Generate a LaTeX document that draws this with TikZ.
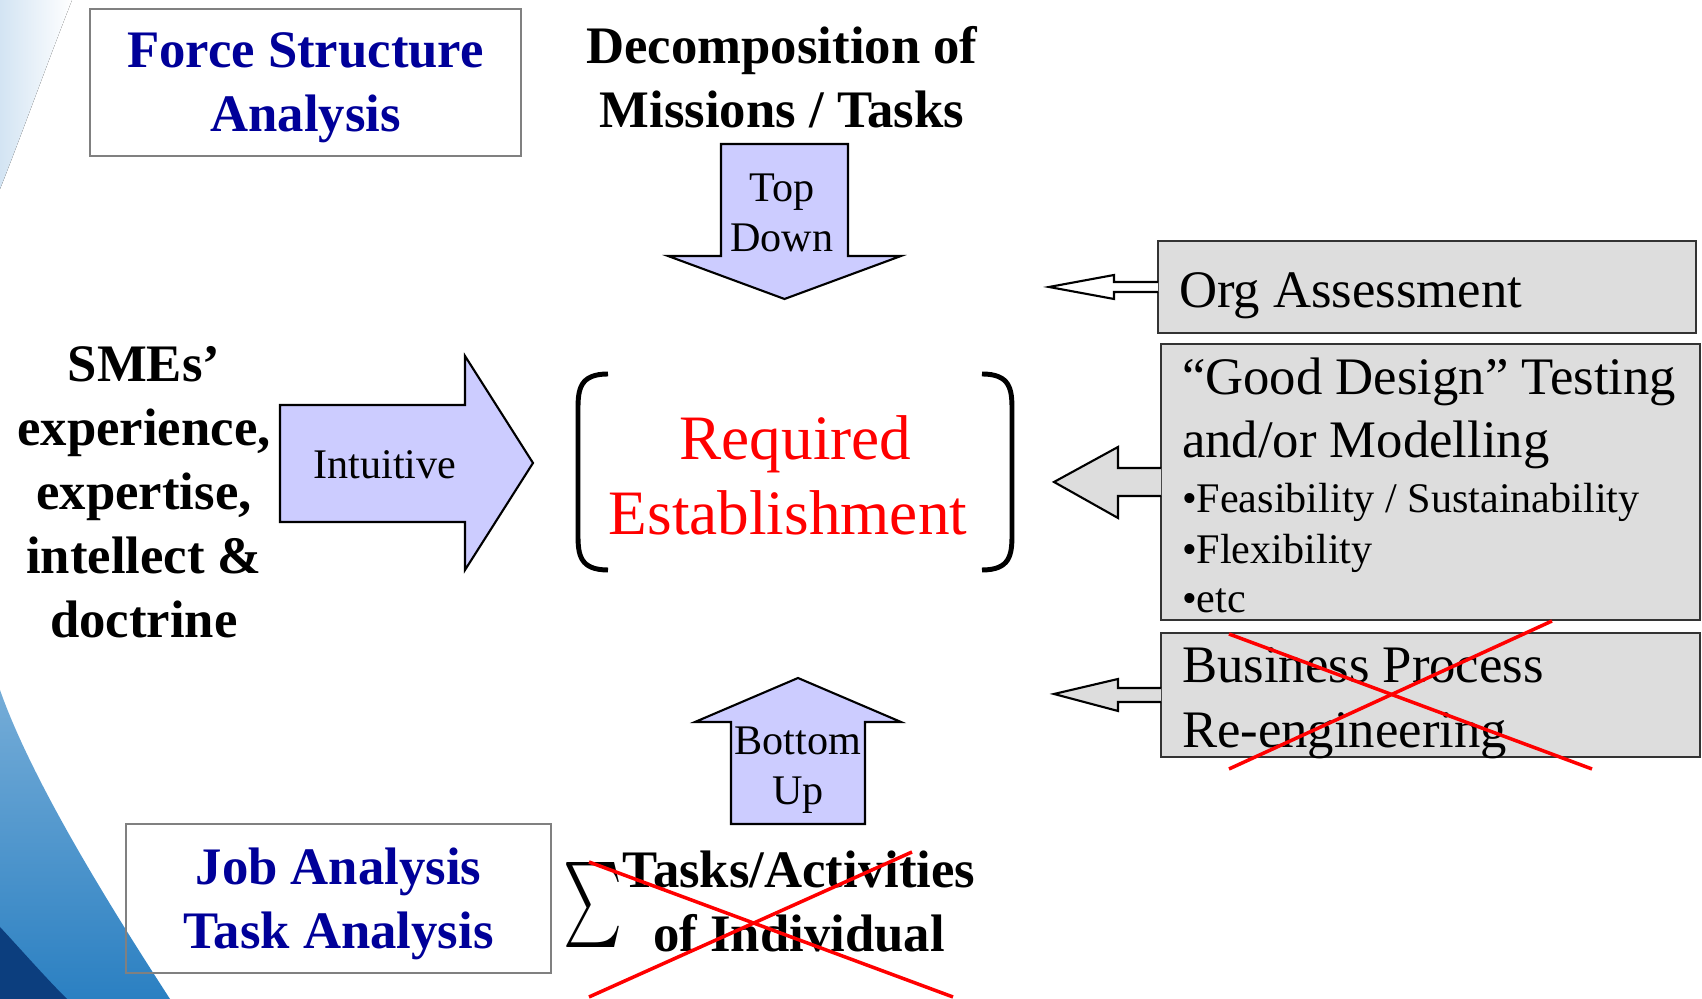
\documentclass[tikz,border=0pt]{standalone}
\usepackage{graphicx}
\usepackage{fontspec}
\setmainfont{Liberation Serif}
\usetikzlibrary{positioning}
\definecolor{arrowblue}{HTML}{CCCCFF}
\definecolor{boxgrey}{HTML}{DDDDDD}
\definecolor{titleblue}{HTML}{000099}
\definecolor{swooshblue}{HTML}{2B80C2}
\definecolor{swooshdark}{HTML}{0C3E7E}
\definecolor{paleblue}{HTML}{D3E4F3}

\begin{document}
\begin{tikzpicture}[semithick, line join=miter,
            title/.style ={font=\fontsize{15}{18.2}\selectfont\bfseries, align=center, inner sep=0pt},
            whitebox/.style ={draw=gray, line width=0.6pt, minimum width=4.31cm, minimum height=1.47cm},
            greybox/.style ={draw=black!80, line width=0.6pt, fill=boxgrey, minimum width=5.39cm},
            bigtext/.style ={font=\fontsize{15}{18.2}\selectfont, anchor=base west, inner sep=0pt},
            smalltext/.style ={font=\fontsize{12}{14.4}\selectfont, anchor=base west, inner sep=0pt},
            arrowtext/.style ={font=\fontsize{12}{14.2}\selectfont, align=center, inner sep=0pt},
            blockarrow/.style ={draw=black, line width=0.6pt, fill=arrowblue},
            sidearrow/.style ={draw=black, line width=0.6pt, fill=boxgrey},
            cross/.style ={draw=red, line width=1pt}]

        \useasboundingbox (0,0) rectangle (17.02,9.99);

        % fondo: swoosh a la izquierda
        \fill[left color=paleblue, right color=white] (0,9.99) -- (0.72,9.99) .. controls (0.45,9.3) and (0.2,8.6) .. (0,8.1) -- cycle;
        \shade[top color=swooshblue!65, bottom color=swooshblue] (0,3.09) .. controls (0.33,2.15) and (1.15,0.85) .. (1.70,0) -- (0,0) -- cycle;
        \fill[swooshdark] (0,0.72) .. controls (0.25,0.45) and (0.45,0.22) .. (0.67,0) -- (0,0) -- cycle;

        % cajas de arriba y abajo
        \node[whitebox] (force) at (3.055,9.165) {};
        \node[title, text=titleblue] (forcetxt) at (3.055,9.11) {Force Structure\\Analysis};
        \node[title] (decomp) at (7.82,9.215) {Decomposition of\\Missions / Tasks};
        \node[whitebox, minimum width=4.25cm, minimum height=1.49cm] (job) at (3.385,1.005) {};
        \node[title, text=titleblue] (jobtxt) at (3.385,0.95) {Job Analysis\\Task Analysis};
        \node[inner sep=0pt] (sigma) at (5.925,0.935) {\resizebox*{0.59cm}{0.85cm}{$\sum$}};
        \node[title] (tasks) at (7.99,0.97) {Tasks/Activities\\of Individual};
        \node[title] (smes) at (1.44,5.07) {SMEs’\\experience,\\expertise,\\intellect \&\\doctrine};

        % flechas azules
        \draw[blockarrow] (7.21,8.55) -- (8.48,8.55) -- (8.48,7.43) -- (9.01,7.43) -- (7.845,7.00) -- (6.68,7.43) -- (7.21,7.43) -- cycle;
        \node[arrowtext] (topdown) at (7.82,7.86) {Top\\Down};
        \draw[blockarrow] (2.80,5.94) -- (4.65,5.94) -- (4.65,6.43) -- (5.33,5.36) -- (4.65,4.29) -- (4.65,4.77) -- (2.80,4.77) -- cycle;
        \node[arrowtext] (intuit) at (3.85,5.34) {Intuitive};
        \draw[blockarrow] (7.31,1.75) -- (8.65,1.75) -- (8.65,2.77) -- (9.01,2.77) -- (7.98,3.21) -- (6.95,2.77) -- (7.31,2.77) -- cycle;
        \node[arrowtext] (bottomup) at (7.98,2.29) {Bottom\\Up};

        % centro
        \node[font=\fontsize{18}{21.3}\selectfont, text=red, align=center, inner sep=0pt] (req) at (7.88,5.24) {\hspace*{0.15cm}Required\\Establishment};
        \draw[line width=1.4pt] (6.08,6.25) .. controls (5.80,6.25) and (5.78,6.10) .. (5.78,5.90) -- (5.78,4.64) .. controls (5.78,4.44) and (5.80,4.29) .. (6.08,4.29);
        \draw[line width=1.4pt] (9.82,6.25) .. controls (10.10,6.25) and (10.12,6.10) .. (10.12,5.90) -- (10.12,4.64) .. controls (10.12,4.44) and (10.10,4.29) .. (9.82,4.29);

        % cajas grises a la derecha
        \node[greybox, minimum width=5.38cm, minimum height=0.92cm] (org) at (14.27,7.12) {};
        \node[bigtext] (orgtxt) at (11.78,6.91) {Org Assessment};
        \node[greybox, minimum height=2.76cm] (good) at (14.305,5.17) {};
        \node[bigtext] (good1) at (11.81,6.045) {“Good Design” Testing};
        \node[bigtext] (good2) at (11.81,5.415) {and/or Modelling};
        \node[smalltext] (good3) at (11.81,4.865) {•Feasibility / Sustainability};
        \node[smalltext] (good4) at (11.81,4.355) {•Flexibility};
        \node[smalltext] (good5) at (11.81,3.86) {•etc};
        \node[greybox, minimum height=1.24cm] (bpr) at (14.305,3.04) {};
        \node[bigtext] (bpr1) at (11.81,3.16) {Business Process};
        \node[bigtext] (bpr2) at (11.81,2.51) {Re-engineering};

        \draw[sidearrow, fill=white] (11.58,7.17) -- (11.14,7.17) -- (11.14,7.24) -- (10.49,7.12) -- (11.14,7.00) -- (11.14,7.07) -- (11.58,7.07);
        \draw[sidearrow] (11.61,5.31) -- (11.18,5.31) -- (11.18,5.52) -- (10.54,5.17) -- (11.18,4.81) -- (11.18,5.03) -- (11.61,5.03);
        \draw[sidearrow] (11.61,3.11) -- (11.18,3.11) -- (11.18,3.20) -- (10.54,3.05) -- (11.18,2.88) -- (11.18,2.97) -- (11.61,2.97);

        % tachados
        \draw[cross] (12.29,3.65) -- (15.92,2.30);
        \draw[cross] (12.29,2.30) -- (15.52,3.78);
        \draw[cross] (5.89,1.37) -- (9.53,0.02);
        \draw[cross] (5.89,0.02) -- (9.12,1.47);
    \end{tikzpicture}
\end{document}
